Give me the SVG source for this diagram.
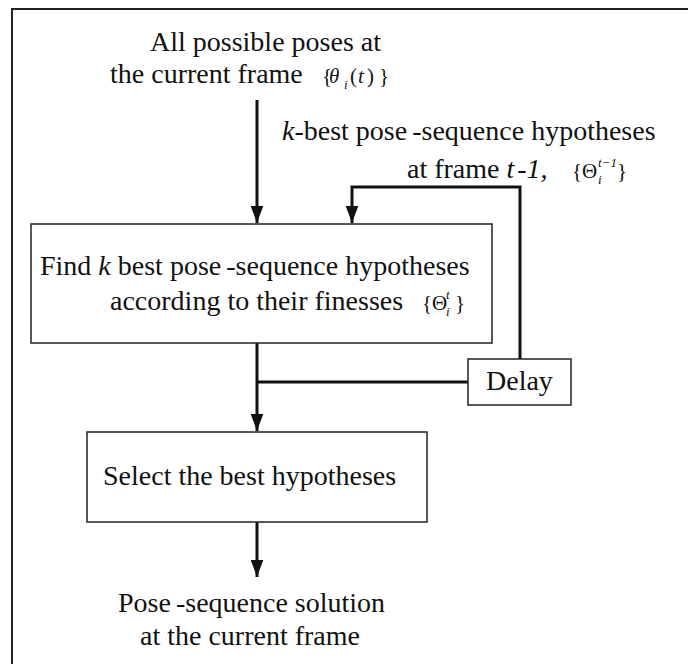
<svg xmlns="http://www.w3.org/2000/svg" width="688" height="664" viewBox="0 0 688 664">
<defs>
<marker id="arr" markerUnits="userSpaceOnUse" markerWidth="18" markerHeight="24" refX="23" refY="8.5" viewBox="0 0 24 17" orient="auto">
<path d="M0,0 L23,8.5 L0,17 Z" fill="#111"/>
</marker>
</defs>
<rect width="688" height="664" fill="#fff"/>
<path d="M12,664 L12,9 L688,9" fill="none" stroke="#222" stroke-width="2"/>

<g id="connectors" fill="none" stroke="#111" stroke-width="3">
<path d="M257,100 L257,223" marker-end="url(#arr)"/>
<path d="M520,359 L520,187 L352,187 L352,223" marker-end="url(#arr)"/>
<path d="M257,343 L257,431" marker-end="url(#arr)"/>
<path d="M257,382 L468,382"/>
<path d="M257,522 L257,577" marker-end="url(#arr)"/>
</g>

<g font-family="Liberation Serif" fill="#111" font-size="28">
<g id="input">
<text x="150" y="51">All possible poses at</text>
<text x="110" y="83">the current frame</text>
<text font-size="21" x="322" y="83">{<tspan font-style="italic" x="329">θ</tspan><tspan font-size="13" font-style="italic" x="344" dy="6">i</tspan><tspan x="350" dy="-6">(</tspan><tspan font-style="italic" x="358">t</tspan><tspan x="367">)</tspan><tspan x="379">}</tspan></text>
</g>

<g id="prev-label">
<text x="282" y="140"><tspan font-style="italic">k</tspan>-best  pose<tspan dx="5">-sequence</tspan> hypotheses</text>
<text x="407" y="178">at frame <tspan font-style="italic">t</tspan><tspan dx="3" font-style="italic">-1,</tspan></text>
<text font-size="21" x="572" y="178">{Θ<tspan font-size="13" font-style="italic" x="598" dy="6">i</tspan><tspan font-size="13" font-style="italic" x="598" dy="-17">t−1</tspan><tspan x="617" dy="11">}</tspan></text>
</g>

<g id="find">
<rect x="31" y="224" width="461" height="119" fill="#fff" stroke="#222" stroke-width="1.5"/>
<text x="40" y="275">Find <tspan font-style="italic">k</tspan> best pose<tspan dx="5">-sequence</tspan> hypotheses</text>
<text x="110" y="310">according to their finesses</text>
<text font-size="21" x="422" y="310">{Θ<tspan font-size="13" font-style="italic" x="446" dy="6">i</tspan><tspan font-size="13" font-style="italic" x="446" dy="-17">t</tspan><tspan x="455" dy="11">}</tspan></text>
</g>

<g id="delay">
<rect x="468" y="359" width="103" height="46" fill="#fff" stroke="#222" stroke-width="1.5"/>
<text x="486" y="390">Delay</text>
</g>

<g id="select">
<rect x="87" y="432" width="340" height="90" fill="#fff" stroke="#222" stroke-width="1.5"/>
<text x="103" y="485">Select the best hypotheses</text>
</g>

<g id="output">
<text x="118" y="612">Pose<tspan dx="5">-sequence</tspan> solution</text>
<text x="140" y="645">at the current frame</text>
</g>
</g>
</svg>
